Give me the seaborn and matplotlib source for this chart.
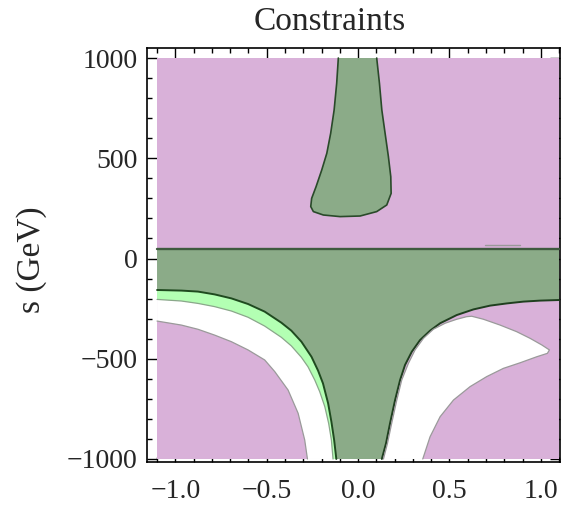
import matplotlib
matplotlib.use("Agg")
import matplotlib.pyplot as plt
import seaborn as sns
import numpy as np
import pandas as pd
from matplotlib.ticker import MultipleLocator, FixedLocator, FixedFormatter

# ---------------- data ----------------
x_range = [-1.1, 1.1]
s_range = [-1000, 1000]

band_top_s = 48

# upper allowed blob (closed outline)
blob_x = [-0.108, -0.117, -0.131, -0.150, -0.171, -0.199, -0.230, -0.254, -0.259, -0.2445,
          -0.190, -0.0985, 0.011, 0.102, 0.157, 0.181, 0.179, 0.166, 0.148, 0.130, 0.117, 0.102]
blob_s = [1000, 874, 741, 624, 525, 441, 358, 300, 259, 234,
          217, 209, 212, 234, 267, 325, 408, 508, 624, 741, 874, 1000]

# left lower edge of the dark-green band (dark / light green)
left_edge_x = [-1.1, -0.967, -0.876, -0.785, -0.693, -0.602, -0.511, -0.420, -0.365,
               -0.310, -0.255, -0.219, -0.192, -0.164, -0.146, -0.131, -0.119]
left_edge_s = [-157, -160, -165, -179, -199, -227, -265, -320, -360,
               -415, -490, -559, -623, -722, -814, -905, -1000]

# light green / white boundary
light_edge_x = [-1.1, -0.967, -0.876, -0.785, -0.693, -0.602, -0.511, -0.420, -0.365,
                -0.310, -0.274, -0.237, -0.210, -0.182, -0.161, -0.146, -0.137]
light_edge_s = [-204, -212, -224, -240, -262, -293, -337, -393, -436,
                -493, -540, -606, -664, -739, -822, -905, -1000]

# white / pink boundary (left)
white_edge_x = [-1.1, -0.967, -0.876, -0.785, -0.693, -0.602, -0.511, -0.456, -0.383,
                -0.328, -0.292, -0.277]
white_edge_s = [-312, -332, -353, -382, -415, -456, -506, -564, -656,
                -772, -905, -1000]

# right lower edge of the dark-green band
right_edge_x = [1.1, 0.996, 0.905, 0.814, 0.7225, 0.631, 0.540, 0.449, 0.394, 0.339,
                0.294, 0.257, 0.230, 0.2025, 0.175, 0.153, 0.130]
right_edge_s = [-207, -210, -215, -224, -235, -254, -282, -323, -360, -407,
                -465, -531, -606, -706, -822, -922, -1000]

# white crescent on the right (closed outline)
cres_x = [0.139, 0.161, 0.184, 0.212, 0.239, 0.2755, 0.312, 0.358, 0.412, 0.476, 0.540,
          0.595, 0.622, 0.686, 0.777, 0.868, 0.941, 1.005, 1.047, 1.036, 0.978, 0.887,
          0.795, 0.704, 0.613, 0.522, 0.449, 0.394, 0.354]
cres_s = [-1000, -922, -822, -706, -606, -523, -456, -398, -353, -323, -303,
          -290, -288, -303, -332, -365, -398, -431, -456, -473, -490, -520,
          -548, -589, -639, -706, -789, -889, -1000]

# small grey artefact line
art_x = [0.695, 0.885]
art_s = [67, 67]

x_ticks = [-1.0, -0.5, 0.0, 0.5, 1.0]
x_tick_labels = ["\u22121.0", "\u22120.5", "0.0", "0.5", "1.0"]
y_ticks = [-1000, -500, 0, 500, 1000]
y_tick_labels = ["\u22121000", "\u2212500", "0", "500", "1000"]

title = "Constraints"
ylabel = "s (GeV)"

# ---------------- style ----------------
sns.set_style("ticks")
plt.rcParams["font.family"] = ["Liberation Serif", "DejaVu Serif"]

PINK = "#d9b1d9"
DKGREEN = "#8bab88"
LTGREEN = "#b3ffb3"

fig = plt.figure(figsize=(5.65, 5.11), dpi=100)
ax = fig.add_axes([147 / 565, 1 - 462 / 511, (560 - 147) / 565, (462 - 48) / 511])

# background (excluded) region
ax.fill([x_range[0], x_range[1], x_range[1], x_range[0]],
        [s_range[0], s_range[0], s_range[1], s_range[1]], color=PINK, lw=0, zorder=1)

# dark green band
band_x = [x_range[0], x_range[1]] + right_edge_x + left_edge_x[::-1]
band_s = [band_top_s, band_top_s] + right_edge_s + left_edge_s[::-1]
ax.fill(band_x, band_s, color=DKGREEN, lw=0, zorder=2)

# light green sliver
ax.fill(left_edge_x + light_edge_x[::-1], left_edge_s + light_edge_s[::-1],
        color=LTGREEN, lw=0, zorder=2)

# white left region
ax.fill(light_edge_x + white_edge_x[::-1], light_edge_s + white_edge_s[::-1],
        color="white", lw=0, zorder=2)

# white crescent
ax.fill(cres_x, cres_s, color="white", lw=0, zorder=2)

# blob
ax.fill(blob_x, blob_s, color=DKGREEN, lw=0, zorder=2)


def outline(xs, ss, color, lw, closed=False, z=3):
    xs = list(xs)
    ss = list(ss)
    if closed:
        xs = xs + xs[:1]
        ss = ss + ss[:1]
    df = pd.DataFrame({"x": xs, "s": ss})
    sns.lineplot(data=df, x="x", y="s", sort=False, estimator=None, color=color,
                 lw=lw, ax=ax, zorder=z, solid_joinstyle="round")


outline([x_range[0], x_range[1]], [band_top_s, band_top_s], "#3f5a3f", 1.7)
outline(left_edge_x, left_edge_s, "#1f4a1f", 1.4)
outline(right_edge_x, right_edge_s, "#1f3f1f", 1.4)
outline(light_edge_x, light_edge_s, "#8aa88a", 0.9)
outline(white_edge_x, white_edge_s, "#9a9a9a", 0.9)
outline(cres_x, cres_s, "#9a9a9a", 0.9)
outline(blob_x, blob_s, "#2a4a2a", 1.2)
outline(art_x, art_s, "#999999", 1.0)

ax.set_xlim(-1.155, 1.105)
ax.set_ylim(-1015, 1050)
ax.set_xlabel("")
ax.set_ylabel("")

ax.xaxis.set_major_locator(FixedLocator(x_ticks))
ax.xaxis.set_major_formatter(FixedFormatter(x_tick_labels))
ax.xaxis.set_minor_locator(MultipleLocator(0.1))
ax.yaxis.set_major_locator(FixedLocator(y_ticks))
ax.yaxis.set_major_formatter(FixedFormatter(y_tick_labels))
ax.yaxis.set_minor_locator(MultipleLocator(100))

ax.tick_params(which="both", direction="in", top=True, right=True, color="black", width=1.0)
ax.tick_params(which="major", length=7)
ax.tick_params(which="minor", length=3.5)
ax.tick_params(axis="x", which="major", labelsize=20, pad=12)
ax.tick_params(axis="y", which="major", labelsize=20, pad=7)

for sp in ax.spines.values():
    sp.set_linewidth(1.2)
    sp.set_color("black")
    sp.set_visible(True)

fig.text(330 / 565, 1 - 22 / 511, title, ha="center", va="center", fontsize=24)
fig.text(32 / 565, 1 - 260 / 511, ylabel, ha="center", va="center", rotation=90, fontsize=24)

fig.savefig("out.png", dpi=100)
